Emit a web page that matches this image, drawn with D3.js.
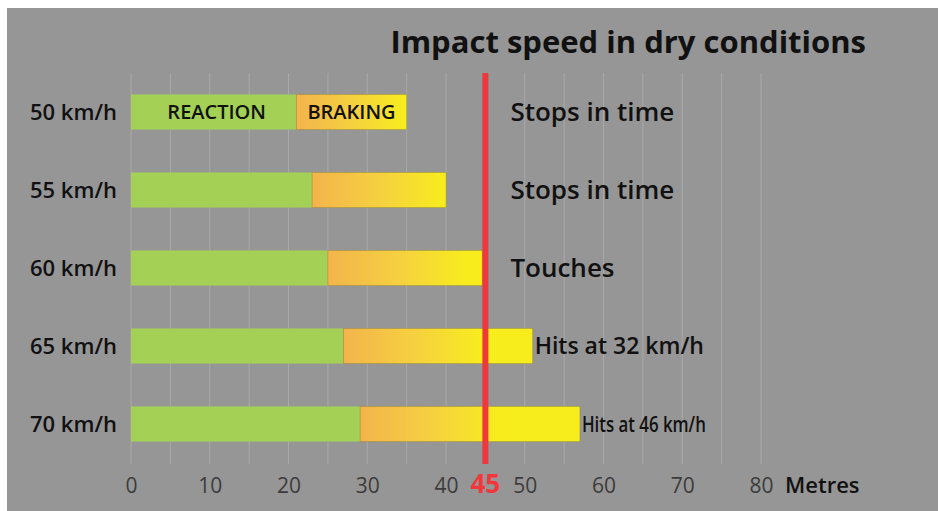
<html>
<script src="https://d3js.org/d3.v7.min.js"></script>
<style>
  body { margin: 0; background: #fff; }
  text { font-family: "Open Sans", "Noto Sans", sans-serif; }
</style>
<body>
<svg width="938" height="511" id="chart"></svg>
<script>
// data
var speeds   = ["50 km/h", "55 km/h", "60 km/h", "65 km/h", "70 km/h"];
var reaction = [21, 23, 25, 27, 29.1];      // metres
var total    = [35, 40, 44.6, 51, 57];      // reaction + braking, metres
var outcomes = ["Stops in time", "Stops in time", "Touches", "Hits at 32 km/h", "Hits at 46 km/h"];
var xTicks   = [0, 10, 20, 30, 40, 50, 60, 70, 80];
var gridTicks = [0, 5, 10, 15, 20, 25, 30, 35, 40, 45, 50, 55, 60, 65, 70, 75, 80];
var limit    = 45;

var svg = d3.select("#chart");

svg.append("rect")
   .attr("x", 7).attr("y", 8)
   .attr("width", 931).attr("height", 503)
   .attr("fill", "#969696");

var x = d3.scaleLinear().domain([0, 80]).range([131, 761]);
var y = d3.scaleBand().domain(speeds).range([73, 463])
          .paddingInner(0.55).paddingOuter(0.275);

// gridlines
svg.append("g").selectAll("line")
   .data(gridTicks)
   .enter().append("line")
   .attr("x1", function(d) { return x(d); })
   .attr("x2", function(d) { return x(d); })
   .attr("y1", 73).attr("y2", 464)
   .attr("stroke", "#a9a9a9")
   .attr("stroke-width", 1);

// title
svg.append("text")
   .attr("x", 866).attr("y", 53)
   .attr("text-anchor", "end")
   .attr("font-size", 31).attr("font-weight", 700)
   .attr("fill", "#111")
   .text("Impact speed in dry conditions");

var rows = speeds.map(function(s, i) {
    return { speed: s, reaction: reaction[i], total: total[i], outcome: outcomes[i], i: i };
});

// gradients for braking part
var defs = svg.append("defs");
rows.forEach(function(d) {
    var x0 = x(d.reaction), x1 = x(d.total);
    var g = defs.append("linearGradient")
        .attr("id", "brake" + d.i)
        .attr("gradientUnits", "userSpaceOnUse")
        .attr("x1", x0).attr("x2", x0 + Math.min(x1 - x0, 140))
        .attr("y1", 0).attr("y2", 0);
    g.append("stop").attr("offset", 0).attr("stop-color", "#f3b44c");
    g.append("stop").attr("offset", 0.5).attr("stop-color", "#f5d040");
    g.append("stop").attr("offset", 1).attr("stop-color", "#f8ed1c");
});

var bars = svg.append("g").selectAll("g")
   .data(rows).enter().append("g");

bars.append("rect")
   .attr("x", x(0))
   .attr("y", function(d) { return y(d.speed); })
   .attr("width", function(d) { return x(d.reaction) - x(0); })
   .attr("height", y.bandwidth())
   .attr("fill", "#a3d055");

bars.append("rect")
   .attr("x", function(d) { return x(d.reaction); })
   .attr("y", function(d) { return y(d.speed); })
   .attr("width", function(d) { return x(d.total) - x(d.reaction); })
   .attr("height", y.bandwidth())
   .attr("fill", function(d) { return "url(#brake" + d.i + ")"; })
   .attr("stroke", "rgba(120,110,20,0.35)")
   .attr("stroke-width", 0.8);

// speed labels
bars.append("text")
   .attr("x", 117)
   .attr("y", function(d) { return y(d.speed) + y.bandwidth() / 2; })
   .attr("dy", "0.36em")
   .attr("text-anchor", "end")
   .attr("font-size", 22).attr("font-weight", 600)
   .attr("fill", "#111")
   .text(function(d) { return d.speed; });

// outcome labels
bars.append("text")
   .attr("x", function(d) { return Math.max(x(limit) + 25, x(d.total) + 2); })
   .attr("y", function(d) { return y(d.speed) + y.bandwidth() / 2; })
   .attr("dy", "0.36em")
   .attr("font-size", function(d) { return d.i == 4 ? 22 : (d.i == 3 ? 23 : 26); })
   .attr("font-weight", 600)
   .attr("fill", "#111")
   .attr("textLength", function(d) { return d.i == 4 ? 124 : null; })
   .attr("lengthAdjust", "spacingAndGlyphs")
   .text(function(d) { return d.outcome; });

// in-bar labels on first row
var first = rows[0];
svg.append("text")
   .attr("x", (x(0) + x(first.reaction)) / 2 + 3)
   .attr("y", y(first.speed) + y.bandwidth() / 2)
   .attr("dy", "0.36em")
   .attr("text-anchor", "middle")
   .attr("font-size", 20).attr("font-weight", 600)
   .attr("fill", "#111")
   .text("REACTION");
svg.append("text")
   .attr("x", (x(first.reaction) + x(first.total)) / 2)
   .attr("y", y(first.speed) + y.bandwidth() / 2)
   .attr("dy", "0.36em")
   .attr("text-anchor", "middle")
   .attr("font-size", 20).attr("font-weight", 600)
   .attr("fill", "#111")
   .text("BRAKING");

// red limit line
svg.append("line")
   .attr("x1", x(limit)).attr("x2", x(limit))
   .attr("y1", 73).attr("y2", 464)
   .attr("stroke", "#f0383c")
   .attr("stroke-width", 6);

// x axis labels
var axis = svg.append("g")
   .attr("transform", "translate(0,464)")
   .call(d3.axisBottom(x).tickValues(xTicks).tickSize(0).tickPadding(14));
axis.select(".domain").remove();
axis.selectAll("text")
   .attr("font-family", "'Open Sans', sans-serif")
   .attr("font-size", 21)
   .attr("fill", "#3c3c3c");

svg.append("text")
   .attr("x", x(limit)).attr("y", 493)
   .attr("text-anchor", "middle")
   .attr("font-size", 26).attr("font-weight", 700)
   .attr("fill", "#f0383c")
   .text(limit);

svg.append("text")
   .attr("x", 785).attr("y", 493)
   .attr("font-size", 22).attr("font-weight", 600)
   .attr("fill", "#111")
   .text("Metres");
</script>
</body>
</html>
